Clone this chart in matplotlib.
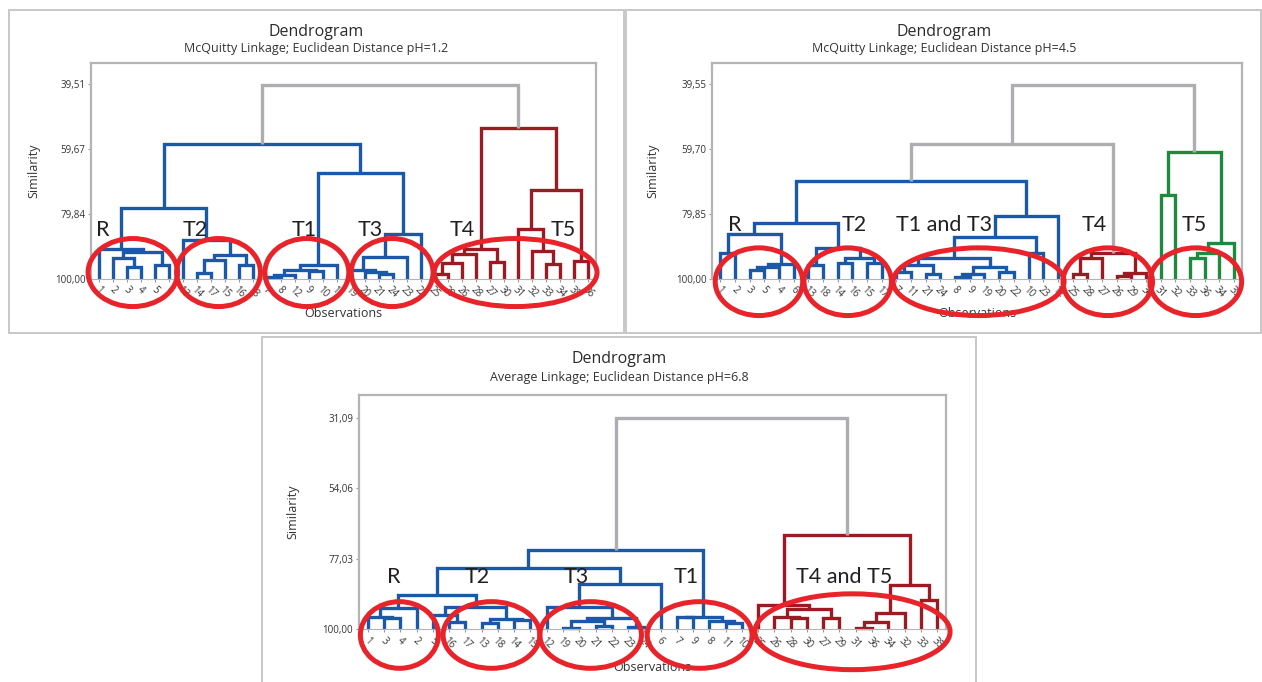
import numpy as np
import matplotlib.pyplot as plt
from matplotlib.patches import Ellipse, Rectangle

plt.rcParams['font.family'] = ['Open Sans', 'DejaVu Sans']

BLUE = '#1c58a8'
RED = '#9b1b22'
GREEN = '#1e8a3e'
GRAY = '#aeaeb2'
CIRCLE = '#e8232a'

# ---------------- data: leaf order and merges (child, child, similarity) -------------
leaves_p1 = [1, 2, 3, 4, 5, 6, 13, 14, 17, 15, 16, 18, 7, 8, 12, 9, 10, 11,
             19, 20, 21, 24, 23, 22, 25, 29, 26, 28, 27, 30, 31, 32, 33, 34, 35, 36]
merges_p1 = [
    ("a1", 3, 4, 96.3), ("a2", 5, 6, 95.6), ("a3", 2, "a1", 93.6),
    ("a4", "a3", "a2", 91.6), ("R", 1, "a4", 90.7),
    ("b1", 14, 17, 98.0), ("b2", "b1", 15, 94.1), ("b3", 16, 18, 95.7),
    ("b4", "b2", "b3", 92.6), ("T2", 13, "b4", 87.9),
    ("RT2", "R", "T2", 78.1),
    ("c1", 7, 8, 99.3), ("c2", "c1", 12, 98.8), ("c3", 9, 10, 97.5),
    ("c4", "c2", "c3", 97.2), ("T1", "c4", 11, 95.8),
    ("d1", 21, 24, 98.4), ("d2", 20, "d1", 97.9), ("d3", 19, "d2", 97.2),
    ("d4", "d3", 23, 93.1), ("T3", "d4", 22, 86.1),
    ("T13", "T1", "T3", 67.1), ("blue", "RT2", "T13", 58.0),
    ("e1", 25, 29, 98.3), ("e2", "e1", 26, 95.0), ("e3", "e2", 28, 92.1),
    ("e4", 27, 30, 94.7), ("T4", "e3", "e4", 90.6),
    ("f1", 33, 34, 95.2), ("f2", 32, "f1", 91.3), ("f3", 31, "f2", 84.4),
    ("f4", 35, 36, 94.5), ("T5", "f3", "f4", 72.3),
    ("red", "T4", "T5", 53.1), ("top", "blue", "red", 39.9),
]
roots_p1 = {"blue": BLUE, "red": RED}
yticks_p1 = [39.51, 59.67, 79.84, 100.00]

leaves_p2 = [1, 2, 3, 5, 4, 6, 13, 18, 14, 16, 15, 17, 7, 11, 21, 24, 8, 9,
             19, 20, 22, 10, 23, 12, 25, 28, 27, 26, 29, 30, 31, 32, 33, 36, 34, 35]
merges_p2 = [
    ("a1", 1, 2, 91.8), ("a2", 3, 5, 97.3), ("a3", "a2", 4, 96.3),
    ("a4", "a3", 6, 95.2), ("R", "a1", "a4", 86.1),
    ("b1", 13, 18, 95.6), ("b2", 14, 16, 95.1), ("b3", 15, 17, 95.1),
    ("b4", "b2", "b3", 93.6), ("T2", "b1", "b4", 90.5),
    ("RT2", "R", "T2", 82.6),
    ("c1", 7, 11, 97.8), ("c2", 21, 24, 98.3), ("c3", "c1", "c2", 95.7),
    ("c4", 8, 9, 99.4), ("c5", "c4", 19, 98.3), ("c6", 20, 22, 97.8),
    ("c7", "c5", "c6", 96.3), ("c8", "c3", "c7", 93.4), ("c9", 10, 23, 91.8),
    ("c10", "c8", "c9", 86.9), ("T13", "c10", 12, 80.5),
    ("blue", "RT2", "T13", 69.6),
    ("e1", 25, 28, 98.3), ("e2", "e1", 27, 93.4), ("e3", 26, 29, 99.0),
    ("e4", "e3", 30, 98.1), ("T4", "e2", "e4", 91.9),
    ("g1", "blue", "T4", 58.2),
    ("f1", 31, 32, 74.0), ("f2", 33, 36, 93.6), ("f3", "f2", 34, 92.0),
    ("f4", "f3", 35, 88.9), ("T5", "f1", "f4", 60.7),
    ("top", "g1", "T5", 39.7),
]
roots_p2 = {"blue": BLUE, "T4": RED, "T5": GREEN}
yticks_p2 = [39.55, 59.70, 79.85, 100.00]

leaves_p3 = [1, 3, 4, 2, 5, 16, 17, 13, 18, 14, 15, 12, 19, 20, 21, 22, 23, 24,
             6, 7, 9, 8, 11, 10, 25, 26, 28, 30, 27, 29, 31, 36, 34, 32, 33, 35]
merges_p3 = [
    ("a1", 3, 4, 96.4), ("a2", 1, "a1", 95.9), ("R", "a2", 2, 93.2),
    ("b1", 16, 17, 97.7), ("b2", 5, "b1", 95.4), ("b3", 13, 18, 98.0),
    ("b4", 14, 15, 97.0), ("b5", "b3", "b4", 96.7), ("T2", "b2", "b5", 92.6),
    ("RT2", "R", "T2", 88.8),
    ("d1", 19, 20, 99.5), ("d2", 21, 22, 98.8), ("d3", "d1", "d2", 97.3),
    ("d4", 23, 24, 99.1), ("d5", "d3", "d4", 96.2), ("T3", 12, "d5", 92.9),
    ("T3b", "T3", 6, 85.3), ("left", "RT2", "T3b", 80.1),
    ("c1", 7, 9, 96.0), ("c2", 11, 10, 98.0), ("c3", 8, "c2", 97.2),
    ("T1", "c1", "c3", 95.9), ("blue", "left", "T1", 74.2),
    ("e1", 28, 30, 96.2), ("e2", 26, "e1", 95.9), ("e3", 27, 29, 96.4),
    ("e4", "e2", "e3", 93.4), ("T4", 25, "e4", 92.1),
    ("f1", 31, 36, 99.5), ("f2", "f1", 34, 97.7), ("f3", "f2", 32, 94.8),
    ("f4", 33, 35, 90.4), ("T5", "f3", "f4", 85.6),
    ("red", "T4", "T5", 69.3), ("top", "blue", "red", 31.1),
]
roots_p3 = {"blue": BLUE, "red": RED}
yticks_p3 = [31.09, 54.06, 77.03, 100.00]

# group labels
groups_p1 = ["R", "T2", "T1", "T3", "T4", "T5"]
groups_p2 = ["R", "T2", "T1 and T3", "T4", "T5"]
groups_p3 = ["R", "T2", "T3", "T1", "T4 and T5"]


def draw_dendro(ax, leaves, merges, roots):
    pos = {lab: i + 1 for i, lab in enumerate(leaves)}
    hgt = {lab: 100.0 for lab in leaves}
    kids = {m[0]: (m[1], m[2]) for m in merges}
    col = {}

    def paint(node, c):
        if node in kids:
            col[node] = c
            for k in kids[node]:
                paint(k, c)

    for r, c in roots.items():
        paint(r, c)
    for name, a, b, s in merges:
        xa, xb = pos[a], pos[b]
        ax.plot([xa, xa, xb, xb], [hgt[a], s, s, hgt[b]], color=col.get(name, GRAY),
                lw=2.4, solid_joinstyle='miter', solid_capstyle='butt', clip_on=False)
        pos[name] = (xa + xb) / 2
        hgt[name] = s


def setup(ax, leaves, yticks, ytop, ylab_x, xlab_y):
    ax.set_xlim(0.43, 36.55)
    ax.set_ylim(100, ytop)
    ax.set_yticks(yticks)
    ax.set_yticklabels([f"{v:.2f}".replace('.', ',') for v in yticks], fontsize=7, color='#333333')
    ax.set_xticks(range(1, len(leaves) + 1))
    ax.set_xticklabels([str(v) for v in leaves], rotation=-45, ha='center', fontsize=7, color='#333333')
    ax.tick_params(axis='both', length=2, width=0.8, color='#999999', pad=2)
    for sp in ax.spines.values():
        sp.set_color('#b4b4b4')
        sp.set_linewidth(1.6)
    ax.spines['bottom'].set_linewidth(0.8)
    ax.set_ylabel("Similarity", fontsize=9, color='#333333')
    ax.yaxis.set_label_coords(ylab_x, 0.5)
    ax.set_xlabel("Observations", fontsize=9, color='#333333')
    ax.xaxis.set_label_coords(0.5, xlab_y)


def label_groups(ax, names, xs, y):
    for n, x in zip(names, xs):
        ax.text(x, y, n, fontsize=15.5, ha='center', va='center', color='#231f20',
                family=['Lato', 'DejaVu Sans'])


def circles(ax, specs):
    for xc, w, yc, h in specs:
        ax.add_patch(Ellipse((xc, yc), w, h, fill=False, ec=CIRCLE, lw=3.6,
                             clip_on=False, zorder=10))


W, H = 1262, 682
fig = plt.figure(figsize=(12.62, 6.82), dpi=100)


def frac_axes(l, r, t, b):
    return fig.add_axes([l / W, 1 - b / H, (r - l) / W, (b - t) / H])


def frame(l, t, r, b):
    fig.add_artist(Rectangle((l / W, 1 - b / H), (r - l) / W, (b - t) / H,
                             transform=fig.transFigure, fill=False, ec='#c8c8c8', lw=1.4))


def titles(xc, y1, y2, sub):
    fig.text(xc / W, 1 - y1 / H, "Dendrogram", ha='center', va='center', fontsize=11.5, color='#2b2b2b')
    fig.text(xc / W, 1 - y2 / H, sub, ha='center', va='center', fontsize=9, color='#333333')


# panel 1
frame(9, 10, 624, 333)
titles(316.5, 31.5, 48.5, "McQuitty Linkage; Euclidean Distance pH=1.2")
ax1 = frac_axes(91, 596, 63, 279)
draw_dendro(ax1, leaves_p1, merges_p1, roots_p1)
setup(ax1, leaves_p1, yticks_p1, 33.0, -0.1, -0.13)
label_groups(ax1, groups_p1, [1.3, 7.9, 15.7, 20.4, 27.0, 34.2], 84.8)
circles(ax1, [(3.42, 6.4, 98.0, 21.1), (9.55, 6.0, 98.0, 21.1), (15.87, 6.0, 98.0, 21.1),
              (21.97, 5.85, 98.0, 21.1), (30.8, 11.65, 98.0, 21.1)])

# panel 2
frame(626, 10, 1261, 333)
titles(944, 31.5, 48.5, "McQuitty Linkage; Euclidean Distance pH=4.5")
ax2 = frac_axes(712, 1242, 63, 279)
draw_dendro(ax2, leaves_p2, merges_p2, roots_p2)
setup(ax2, leaves_p2, yticks_p2, 33.0, -0.1, -0.13)
label_groups(ax2, groups_p2, [1.98, 10.15, 16.25, 26.5, 33.3], 83.2)
circles(ax2, [(3.63, 5.96, 100.84, 21.0), (9.68, 5.96, 100.84, 21.0), (18.6, 11.65, 100.84, 21.0),
              (27.4, 6.1, 100.84, 21.0), (33.4, 6.25, 100.84, 21.0)])

# panel 3
frame(262, 337, 976, 690)
titles(619, 359, 378, "Average Linkage; Euclidean Distance pH=6.8")
ax3 = frac_axes(358.6, 946, 395, 629.3)
draw_dendro(ax3, leaves_p3, merges_p3, roots_p3)
setup(ax3, leaves_p3, yticks_p3, 23.7, -0.1, -0.135)
label_groups(ax3, groups_p3, [2.57, 7.7, 13.8, 20.6, 30.3], 82.9)
circles(ax3, [(2.94, 4.8, 101.85, 21.7), (8.6, 5.95, 101.85, 21.7), (14.7, 6.25, 101.85, 21.7),
              (21.4, 6.45, 101.85, 21.7), (30.8, 12.0, 100.8, 24.7)])

fig.savefig('out.png', dpi=100)
